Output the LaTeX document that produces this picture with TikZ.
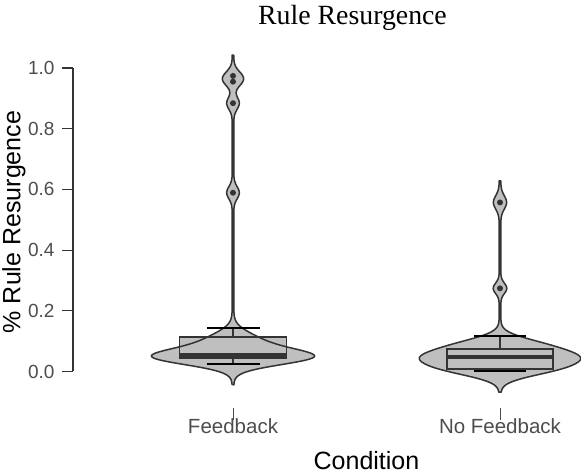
\documentclass[tikz,border=0pt]{standalone}
\usepackage{fontspec}
\setmainfont{Liberation Sans}
\newfontfamily\titlefont{Liberation Serif}
\usepackage{tikz}
\usetikzlibrary{calc}

\definecolor{violinfill}{HTML}{BFBFBF}
\definecolor{violinline}{HTML}{333333}
\definecolor{ticktext}{HTML}{4D4D4D}

\tikzset{
  declare function={
    kern(\yy,\mm,\bw)=exp(-min(0.5*((\yy-\mm)/\bw)*((\yy-\mm)/\bw),12));
    fbw(\yy)=0.8+75*kern(\yy,0.048,0.026)+24*kern(\yy,0.10,0.03)
      +5.5*kern(\yy,0.589,0.02)+5.5*kern(\yy,0.884,0.02)
      +5.5*kern(\yy,0.955,0.02)+5.5*kern(\yy,0.974,0.02);
    nfw(\yy)=0.8+44*kern(\yy,0.008,0.025)+58*kern(\yy,0.048,0.025)
      +33*kern(\yy,0.088,0.025)+6*kern(\yy,0.274,0.017)+5.8*kern(\yy,0.557,0.022);
  },
  violin/.style={draw=violinline,line width=1.5pt,line join=round},
  boxpart/.style={fill=violinfill,draw=violinline,line width=1.3pt},
  medianline/.style={draw=violinline,line width=4pt},
  whisker/.style={draw=violinline,line width=1.3pt},
  capline/.style={draw=black,line width=2pt},
  outpoint/.style={fill=violinline},
  ticklabel/.style={text=ticktext,font=\fontsize{19}{22}\selectfont,anchor=east},
  catlabel/.style={text=ticktext,font=\fontsize{20.5}{24}\selectfont,anchor=base},
  axistitle/.style={font=\fontsize{25}{30}\selectfont}
}

\begin{document}
\begin{tikzpicture}[x=1pt,y=1pt]
  \useasboundingbox (0,0) rectangle (581,474);
  \node[font=\titlefont\fontsize{27.8}{32}\selectfont,anchor=base] (title) at (352.5,449) {Rule Resurgence};
  \node[axistitle,rotate=90] (ylab) at (14,252) {\% Rule Resurgence};
  \node[axistitle,anchor=base] (xlab) at (366.5,5) {Condition};

  \begin{scope}[yshift=102.5pt,y=303.5pt]
    \draw[violinline,line width=1.1pt] (73,0) -- (73,1);
    \foreach \v in {0.0,0.2,0.4,0.6,0.8,1.0} {
      \draw[violinline,line width=1.1pt] (62,\v) -- (73,\v);
      \node[ticklabel] at (58,\v) {\v};
    }

    \def\fbpath{plot[domain=-0.044:1.043,samples=320,variable=\t] ({233+fbw(\t)},\t)
      -- plot[domain=1.043:-0.044,samples=320,variable=\t] ({233-fbw(\t)},\t) -- cycle}
    \def\nfpath{plot[domain=-0.068:0.628,samples=240,variable=\t] ({500+nfw(\t)},\t)
      -- plot[domain=0.628:-0.068,samples=240,variable=\t] ({500-nfw(\t)},\t) -- cycle}
    \fill[violinfill] \fbpath;
    \fill[violinfill] \nfpath;

    \draw[whisker] (233,0.114) -- (233,0.144);
    \draw[whisker] (233,0.0445) -- (233,0.024);
    \draw[boxpart] (179.5,0.0445) rectangle (286.5,0.114);

    \draw[whisker] (500,0.074) -- (500,0.118);
    \draw[whisker] (500,0.008) -- (500,0.0016);
    \draw[boxpart] (447,0.008) rectangle (553,0.074);

    \draw[violin] \fbpath;
    \draw[violin] \nfpath;

    \draw[medianline] (179.5,0.056) -- (286.5,0.056);
    \draw[capline] (206.5,0.144) -- (259.5,0.144);
    \draw[capline] (206.5,0.024) -- (259.5,0.024);
    \draw[medianline] (447,0.048) -- (553,0.048);
    \draw[capline] (474,0.118) -- (526,0.118);
    \draw[capline] (474,0.0016) -- (526,0.0016);

    \foreach \p in {0.589,0.884,0.955,0.974}
      \fill[outpoint] (233,\p) circle[radius=3pt];
    \foreach \p in {0.274,0.557}
      \fill[outpoint] (500,\p) circle[radius=3pt];
  \end{scope}

  \draw[ticktext,line width=1pt] (233,66) -- (233,54);
  \draw[ticktext,line width=1pt] (500,66) -- (500,54);
  \node[catlabel] (fb) at (233,40) {Feedback};
  \node[catlabel] (nofb) at (500,40) {No Feedback};
\end{tikzpicture}
\end{document}
